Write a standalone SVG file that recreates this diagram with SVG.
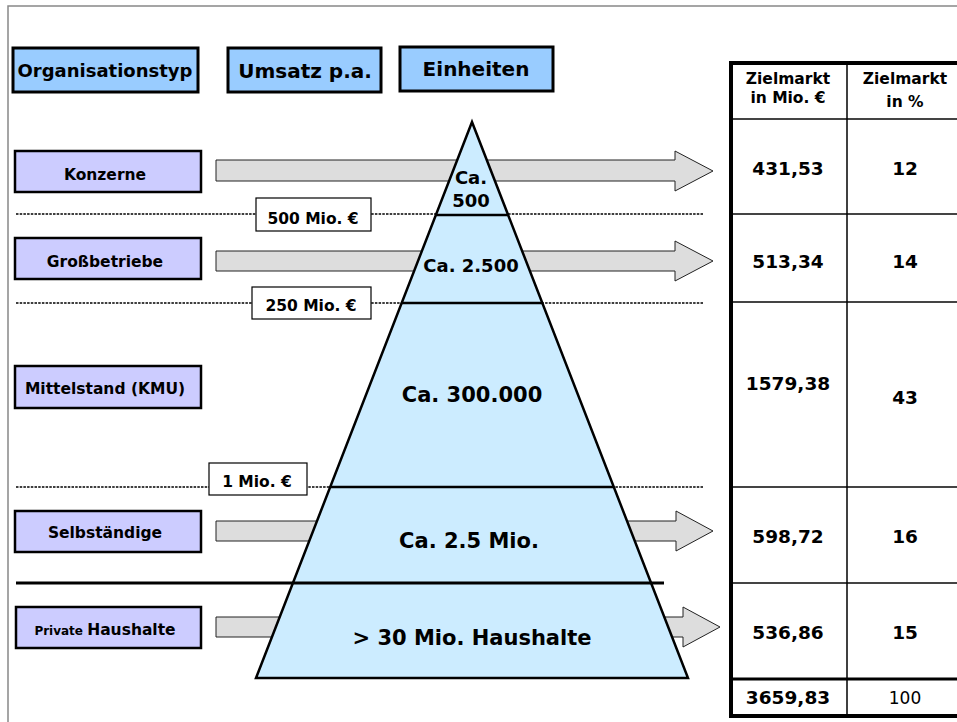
<svg xmlns="http://www.w3.org/2000/svg" width="957" height="722" viewBox="0 0 957 722">
<style>
text{font-family:"DejaVu Sans","Verdana","Liberation Sans",sans-serif;font-weight:bold;fill:#000;text-anchor:middle}
text.n{font-weight:normal}
.hdr{fill:#99CCFF;stroke:#000;stroke-width:3}
.lbl{fill:#CCCCFF;stroke:#000;stroke-width:2.5}
.arrow{fill:#DDDDDD;stroke:#222;stroke-width:1}
.dot{stroke:#000;stroke-width:1.5;stroke-dasharray:2.5 1.2;fill:none}
.thr{fill:#fff;stroke:#000;stroke-width:1.2}
.seg{stroke:#000;stroke-width:2.5}
.tl{stroke:#444;stroke-width:1.8}
.tk{stroke:#000;stroke-width:4}
</style>
<rect width="957" height="722" fill="#fff"/>
<g id="frame" stroke="#888" stroke-width="1.5" fill="none">
<path d="M8,722 V6 H957"/>
</g>
<g id="header-organisationstyp"><rect class="hdr" x="13" y="48" width="185" height="44"/><text x="105" y="77" font-size="18">Organisationstyp</text></g>
<g id="header-umsatz"><rect class="hdr" x="228" y="48" width="153" height="44"/><text x="305" y="78" font-size="20">Umsatz p.a.</text></g>
<g id="header-einheiten"><rect class="hdr" x="400" y="47" width="153" height="44"/><text x="476" y="76" font-size="20">Einheiten</text></g>
<g id="connectors">
<path class="arrow" d="M216,160 H675 V151 L713,171 L675,191 V181 H216 Z"/>
<path class="arrow" d="M216,251 H675 V241 L713,261 L675,281 V271 H216 Z"/>
<path class="arrow" d="M216,521 H676 V511 L713,531 L676,551 V541 H216 Z"/>
<path class="arrow" d="M216,617 H683 V607 L720,627 L683,647 V637 H216 Z"/>
<line class="dot" x1="16" y1="214" x2="703" y2="214"/>
<line class="dot" x1="16" y1="303" x2="703" y2="303"/>
<line class="dot" x1="16" y1="487" x2="703" y2="487"/>
</g>
<g id="pyramid">
<polygon points="472,122 256,678 688,678" fill="#CCECFF" stroke="#000" stroke-width="2.5" stroke-linejoin="miter"/>
<line class="seg" x1="436" y1="215" x2="509" y2="215"/>
<line class="seg" x1="402" y1="303" x2="543" y2="303"/>
<line class="seg" x1="331" y1="487" x2="613" y2="487"/>
<text x="471" y="184" font-size="18">Ca.</text>
<text x="471" y="207" font-size="18">500</text>
<text x="471" y="272" font-size="18">Ca. 2.500</text>
<text x="472" y="402" font-size="21">Ca. 300.000</text>
<text x="469" y="548" font-size="21">Ca. 2.5 Mio.</text>
<text x="472" y="645" font-size="21">&gt; 30 Mio. Haushalte</text>
</g>
<line x1="16" y1="583" x2="664" y2="583" stroke="#000" stroke-width="3"/>
<g id="threshold-500"><rect class="thr" x="256" y="198" width="115" height="33"/><text x="313" y="224" font-size="15.5">500 Mio. €</text></g>
<g id="threshold-250"><rect class="thr" x="252" y="287" width="119" height="32"/><text x="311" y="311" font-size="15.5">250 Mio. €</text></g>
<g id="threshold-1"><rect class="thr" x="209" y="463" width="98" height="32"/><text x="257" y="487" font-size="15.5">1 Mio. €</text></g>
<g id="konzerne"><rect class="lbl" x="15" y="151" width="186" height="41"/><text x="105" y="180" font-size="15.5">Konzerne</text></g>
<g id="grossbetriebe"><rect class="lbl" x="15" y="238" width="186" height="41"/><text x="105" y="267" font-size="15.5">Großbetriebe</text></g>
<g id="mittelstand"><rect class="lbl" x="15" y="366" width="186" height="42"/><text x="105" y="394" font-size="15.5">Mittelstand (KMU)</text></g>
<g id="selbstaendige"><rect class="lbl" x="15" y="511" width="186" height="41"/><text x="105" y="538" font-size="15.5">Selbständige</text></g>
<g id="private-haushalte"><rect class="lbl" x="16" y="607" width="185" height="41"/><text x="105" y="635"><tspan font-size="12">Private </tspan><tspan font-size="15.5">Haushalte</tspan></text></g>
<g id="table">
<line class="tl" x1="731" y1="119" x2="957" y2="119"/>
<line class="tl" x1="731" y1="214" x2="957" y2="214"/>
<line class="tl" x1="731" y1="302" x2="957" y2="302"/>
<line class="tl" x1="731" y1="487" x2="957" y2="487"/>
<line class="tl" x1="731" y1="583" x2="957" y2="583"/>
<line x1="847" y1="63" x2="847" y2="716" stroke="#000" stroke-width="1.5"/>
<line x1="731" y1="679" x2="957" y2="679" stroke="#000" stroke-width="3"/>
<line class="tk" x1="729" y1="63" x2="957" y2="63"/>
<line class="tk" x1="731" y1="61" x2="731" y2="718"/>
<line class="tk" x1="729" y1="716" x2="957" y2="716"/>
<text x="788" y="84" font-size="15.5">Zielmarkt</text>
<text x="788" y="103" font-size="15.5">in Mio. €</text>
<text x="905" y="84" font-size="15.5">Zielmarkt</text>
<text x="905" y="107" font-size="15.5">in %</text>
<text x="788" y="175" font-size="18.5">431,53</text>
<text x="905" y="175" font-size="18.5">12</text>
<text x="788" y="268" font-size="18.5">513,34</text>
<text x="905" y="268" font-size="18.5">14</text>
<text x="788" y="390" font-size="18.5">1579,38</text>
<text x="905" y="404" font-size="18.5">43</text>
<text x="788" y="543" font-size="18.5">598,72</text>
<text x="905" y="543" font-size="18.5">16</text>
<text x="788" y="639" font-size="18.5">536,86</text>
<text x="905" y="639" font-size="18.5">15</text>
<text x="788" y="704" font-size="18.5">3659,83</text>
<text class="n" x="905" y="704" font-size="17">100</text>
</g>
</svg>
